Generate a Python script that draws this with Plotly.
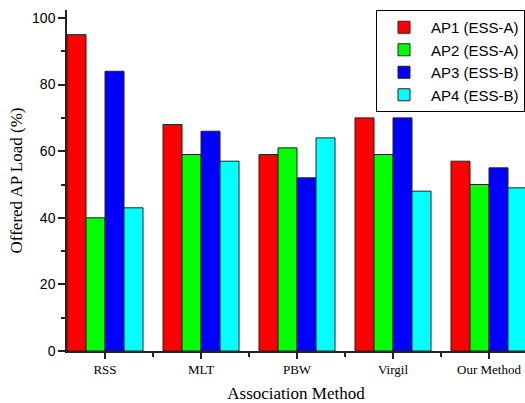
import plotly.graph_objects as go

categories = ["RSS", "MLT", "PBW", "Virgil", "Our Method"]
series_names = ["AP1 (ESS-A)", "AP2 (ESS-A)", "AP3 (ESS-B)", "AP4 (ESS-B)"]
ap1 = [95, 68, 59, 70, 57]
ap2 = [40, 59, 61, 59, 50]
ap3 = [84, 66, 52, 70, 55]
ap4 = [43, 57, 64, 48, 49]
colors = ["#ff0000", "#00ff00", "#0000ff", "#00ffff"]
y_ticks = [0, 20, 40, 60, 80, 100]

xpos = list(range(len(categories)))
fig = go.Figure()
for name, vals, c in zip(series_names, [ap1, ap2, ap3, ap4], colors):
    fig.add_trace(go.Bar(x=xpos, y=vals, name=name, marker=dict(color=c, line=dict(color="#222222", width=1))))

fig.update_layout(
    width=525, height=403,
    margin=dict(l=67, r=0, t=10, b=52),
    plot_bgcolor="white", paper_bgcolor="white",
    barmode="group", bargap=0.208, bargroupgap=0,
    showlegend=True,
    legend=dict(x=1, xanchor="right", y=1, yanchor="top",
                bordercolor="#000000", borderwidth=1,
                font=dict(family="Arial, Liberation Sans", size=15, color="#000"),
                bgcolor="white", tracegroupgap=0, itemwidth=44),
    xaxis=dict(
        range=[-0.396, 4.375],
        tickmode="array", tickvals=xpos, ticktext=categories,
        ticks="outside", ticklen=6, tickwidth=1.5, tickcolor="#222",
        showline=True, linecolor="#222", linewidth=1.5,
        showgrid=False, zeroline=False,
        tickfont=dict(family="Times New Roman, Liberation Serif", size=13, color="#000"),
        minor=dict(tickvals=[i + 0.5 for i in xpos], ticks="outside", ticklen=4, tickwidth=1.5, tickcolor="#222"),
        title=dict(text="Association Method", font=dict(family="Times New Roman, Liberation Serif", size=17, color="#000"), standoff=12),
    ),
    yaxis=dict(
        range=[0, 102.4],
        tickmode="array", tickvals=y_ticks,
        ticks="outside", ticklen=7, tickwidth=1.5, tickcolor="#222",
        showline=True, linecolor="#222", linewidth=1.5,
        showgrid=False, zeroline=False,
        tickfont=dict(family="Arial, Liberation Sans", size=14, color="#000"),
        minor=dict(tickvals=[10, 30, 50, 70, 90], ticks="outside", ticklen=4, tickwidth=1.5, tickcolor="#222"),
        title=dict(text="Offered AP Load (%)", font=dict(family="Times New Roman, Liberation Serif", size=17, color="#000"), standoff=5),
    ),
)
fig.write_html("out.html", config={"displayModeBar": False},
               post_script="document.body.style.margin='0';document.body.style.padding='0';")
